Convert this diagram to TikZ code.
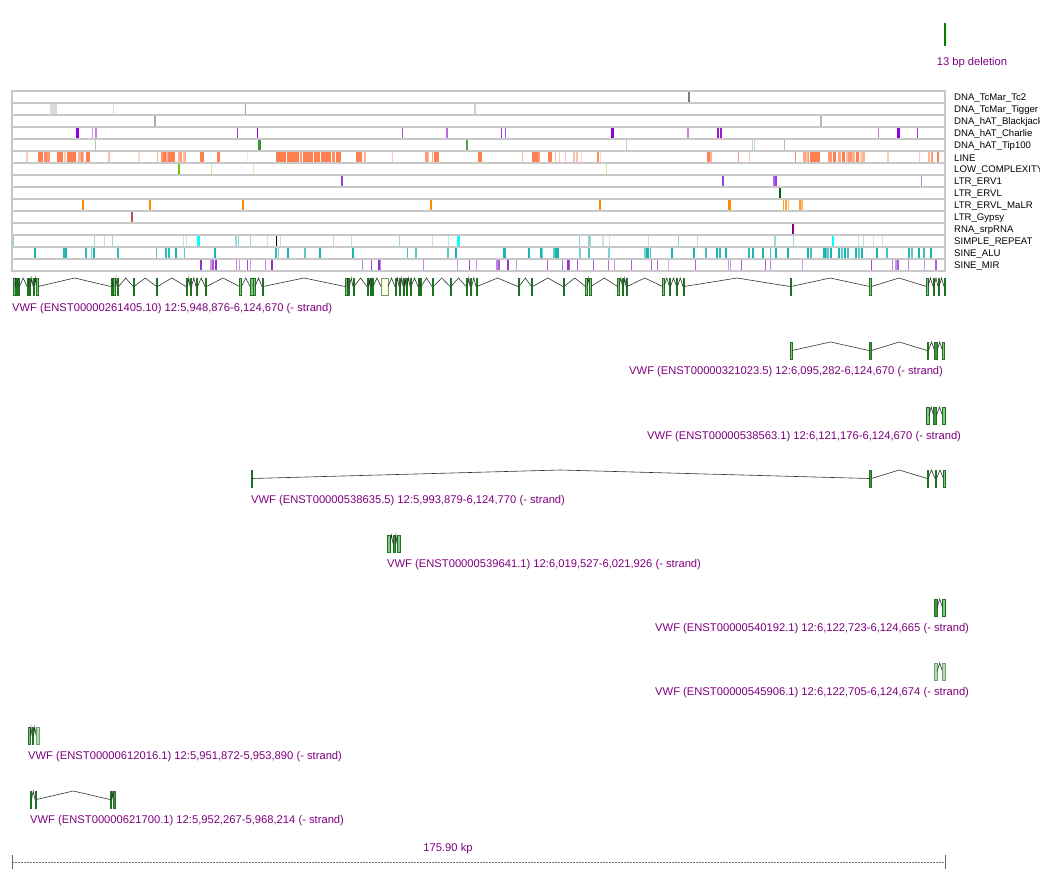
\documentclass[tikz,border=0pt]{standalone}
\usepackage{fontspec}
\setmainfont{Liberation Sans}
\definecolor{lbl}{HTML}{800080}
\definecolor{rowline}{HTML}{C8C8C8}
\definecolor{exfill}{HTML}{86C686}
\definecolor{exdraw}{HTML}{1E731E}
\definecolor{cTc}{HTML}{5F7272}
\definecolor{cTig}{HTML}{999999}
\definecolor{cBJ}{HTML}{86A286}
\definecolor{cCh}{HTML}{9400D3}
\definecolor{cTip}{HTML}{228B22}
\definecolor{cLINE}{HTML}{FF7F50}
\definecolor{cLow}{HTML}{66CC00}
\definecolor{cERV}{HTML}{8A2BE2}
\definecolor{cERVL}{HTML}{006400}
\definecolor{cMaLR}{HTML}{FF8C00}
\definecolor{cGyp}{HTML}{A52A2A}
\definecolor{cSRP}{HTML}{800080}
\definecolor{cSimp}{HTML}{40B0B0}
\definecolor{cAqua}{HTML}{00FFFF}
\definecolor{cAlu}{HTML}{18B4B0}
\definecolor{cMIR}{HTML}{9932CC}
\tikzset{
  tracklbl/.style={anchor=west,inner sep=0pt,font=\fontsize{9.6}{10}\selectfont,text=black},
  txlbl/.style={anchor=west,inner sep=0pt,font=\fontsize{11.2}{12}\selectfont,text=lbl},
  intron/.style={draw=black!80,line width=0.6pt},
  ex/.style={fill=exfill,draw=exdraw,line width=0.5pt},
  exd/.style={fill=exdraw!80,draw=exdraw,line width=0.5pt},
  exl/.style={fill=exfill!60,draw=exdraw!65,line width=0.5pt},
  exu/.style={fill=yellow!12,draw=exfill!80!black,line width=0.6pt},
  rowbox/.style={draw=rowline,line width=1.4pt}
}
\newcommand\feats[3]{%
  \foreach \x/\w/\o in {#3}{\fill[#2,fill opacity=\o] (\x,{91+12*#1+1}) rectangle ({\x+\w},{91+12*#1+11});}}
\newcommand\transcript[2]{%
  \gdef\tprev{}%
  \foreach \x/\w/\s in {#2}{%
    \ifx\tprev\empty\else
      \draw[intron] (\tprev,#1+8.5) -- ({(\tprev+\x)/2},#1) -- (\x,#1+8.5);
    \fi
    \draw[\s] (\x,#1) rectangle ++(\w,17);
    \pgfmathsetmacro\tend{\x+\w}\xdef\tprev{\tend}%
  }}
\begin{document}
\begin{tikzpicture}[x=1pt,y=-1pt]
\useasboundingbox (0,0) rectangle (1062,888);
\fill[white] (0,0) rectangle (1062,888);
% deletion
\draw[cERVL!80!green,line width=1.1pt] (945,23) -- (945,46);
\node[txlbl,anchor=center] (del) at (972,62.5) {13 bp deletion};
% rows background
\foreach \i in {0,...,14}{\fill[white] (12,{91+12*\i}) rectangle (945,{103+12*\i});}
% features
\feats{0}{cTc}{688/2/0.9}
\feats{1}{cTig}{50/7/0.35,113/1/0.3,245/1/0.9,474/2/0.45}
\feats{2}{cBJ}{154/1.5/0.8,820/1.5/0.7}
\feats{3}{cCh}{76/3/1,92/1/0.4,95/1.5/0.5,237/1/0.8,257/1/1,402/1/0.7,446/1.5/0.6,501/1/0.8,505/1/0.7,611/3/1,687/1.5/0.5,717/1.5/0.9,720/1.5/0.9,878/1/0.5,897/2.5/1,917/1/0.8}
\feats{4}{cTip}{95/1/0.4,258/3/0.9,466/1.5/0.8,626/1/0.3,752/1/0.3,754/1/0.3,784/1/0.45}
\feats{5}{cLINE}{26/1.5/0.4,38/5/1,44/3/0.9,47/3/0.8,57/6/1,64/1.5/0.4,67/9/1,78/3/0.6,81/2/0.9,83/1/0.5,86/4/1,108/1.5/0.5,138/1.5/0.3,157/1/0.6,161/2/0.8,163/3/1,166/2/0.6,168/7/1,178/2/0.6,180/2/0.8,183/2/0.5,185/1/0.7,200/3.5/1,217/2.5/1,247/1/0.2,276/10/1,287/12/1,300/2/0.8,303/10/1,314/6/1,321/10/1,332/3/0.9,336/5/1,340/1/0.4,356/6/1,364/1.5/0.6,392/1/0.4,425/3/0.8,428/1/0.6,432/1/0.7,434/5/1,478/4/1,522/1/0.5,532/6/1,538/1.5/0.8,548/4/1,555/1/0.5,559/1/0.4,565/1/0.4,573/2/0.5,576/1.5/0.5,581/1/0.3,597/2/0.9,600/1/0.3,707/3/1,710/2/0.6,738/1/0.8,749/1/0.4,795/1/0.9,803/3/0.7,806/2/0.5,808/1/0.8,810/10/1,828/4/0.8,833/3/1,838/3/0.7,842/3/1,846/2/0.5,848/4/0.8,852/3/0.6,856/3/1,860/2/0.4,862/3/0.6,887/1.5/0.4,919/1/0.4,928/2/0.6,931/2/0.8,937/1.5/1}
\feats{6}{cLow}{178/1.5/1,211/1/0.35,253/1/0.3,606/1/0.35}
\feats{7}{cERV}{341/2/0.9,722/2/0.9,773/1.5/0.7,775/1.5/0.9,921/1/0.6}
\feats{8}{cERVL}{779/2/1}
\feats{9}{cMaLR}{82/2/1,149/2/1,242/2/1,430/2/1,599/2/1,728/2.5/1,783/1/0.8,785/1.5/0.8,788/1/0.6,799/1.5/0.8,801/1.5/0.6}
\feats{10}{cGyp}{131/2/0.8}
\feats{11}{cSRP}{792/1.5/1}
\feats{12}{cSimp}{13/1/0.6,94/1/0.5,104/1/0.4,112/1/0.5,183/1/0.3,186/1/0.3,235/1.5/0.5,238/1/0.6,250/1/0.5,267/1/0.3,280/1/0.4,333/1/0.4,351/1/0.4,399/1/0.5,432/1/0.3,448/1/0.3,579/1/0.6,588/1.5/0.6,590/1/0.5,602/1/0.3,603/1/0.3,609/1/0.3,648/1/0.4,678/1/0.6,697/1/0.4,774/2/0.5,793/1/0.5,858/1/0.3,863/1/0.4,873/1/0.3,882/1/0.3}
\feats{12}{cAqua}{197/3/1,457/2.5/1,832/1.5/1}
\feats{12}{black}{276/1/1}
\feats{13}{cAlu}{34/2/1,63/1.5/0.9,65/2/1,85/2/0.9,91/1/0.6,93/1.5/1,117/2/0.9,156/1/0.7,165/1.5/0.9,168/1.5/0.9,175/2/1,184/1/0.7,214/2/1,275/1.5/0.9,278/1/0.6,287/2/1,304/2/0.7,319/2/1,352/2/1,407/1/0.8,415/2/0.7,447/2/0.7,455/2/1,503/3/1,528/2/1,540/2/1,542/1/0.6,553/2/0.7,555/4/1,579/2/0.6,588/2/0.8,608/2/0.6,644/2/0.6,646/3/1,650/1/0.8,671/2/1,693/1.5/1,705/1.5/0.8,716/1.5/1,719/1.5/0.9,725/2/1,748/2/0.9,752/2/1,762/1.5/1,770/1/0.8,775/1.5/1,787/1.5/1,807/1.5/1,810/1.5/0.8,823/3/1,826/3/0.7,830/2/1,838/2/1,841/2/0.7,844/2/1,847/2/0.8,855/2/1,858/2/0.7,861/2/1,876/2/1,886/1.5/0.8,908/1.5/0.9,911/1.5/0.7,918/1.5/1,923/1.5/0.8,930/1.5/1}
\feats{14}{cMIR}{200/1.5/1,210/1.5/0.5,212/1.5/0.8,215/1.5/1,236/1/0.6,239/1/0.5,247/1/0.9,250/1/0.5,265/1/0.6,271/1.5/1,362/1/0.6,371/1/0.9,378/1.5/1,380/1/0.6,423/1/0.6,457/1/0.5,469/1/0.9,476/1/0.5,496/2/0.6,498/1.5/0.8,507/1.5/1,516/1/0.5,547/1/0.8,562/1/0.7,567/1.5/1,569/1/0.8,577/1/0.8,593/1/0.8,608/1/0.7,614/1/0.5,631/1/0.8,651/1/0.8,657/1/0.7,668/1/0.4,695/1/0.8,728/1/0.5,730/1/0.5,741/1/0.8,765/1/0.8,770/1/0.6,802/1/0.5,871/1/0.9,892/1/0.6,895/1.5/0.5,897/1.5/0.8,908/1/0.6,924/1/0.5,935/1.5/0.8}
% row borders
\foreach \i in {0,...,14}{\draw[rowbox] (12,{91+12*\i}) rectangle (945,{103+12*\i});}
% track labels
\begin{scope}
\clip (948,85) rectangle (1039,275);
\foreach \t [count=\i from 0] in {DNA\_TcMar\_Tc2,DNA\_TcMar\_Tigger,DNA\_hAT\_Blackjack,DNA\_hAT\_Charlie,DNA\_hAT\_Tip100,LINE,LOW\_COMPLEXITY,LTR\_ERV1,LTR\_ERVL,LTR\_ERVL\_MaLR,LTR\_Gypsy,RNA\_srpRNA,SIMPLE\_REPEAT,SINE\_ALU,SINE\_MIR}{
  \node[tracklbl] (r\i) at (954,{98+12*\i}) {\t};}
\end{scope}
% transcripts
\transcript{278}{13/2/ex,16/1.5/ex,18.5/1/ex,27/1.5/ex,29.5/1/ex,33/1.5/ex,36.5/1.5/ex,111/1.5/ex,113.5/1.5/ex,117/1.5/ex,133/1/ex,156.5/1/ex,186/1.5/ex,190/1.5/ex,196/1.5/ex,205/1.5/ex,239.5/2/ex,250/3/ex,253.5/1.5/ex,262/1/ex,345/2/ex,348/1.5/ex,353/1/ex,367/1.5/ex,370/1.5/exd,372/1/ex,381/7/exu,395/1/ex,399/1.5/ex,403/1.5/ex,406/1/ex,410/1/ex,418/1.5/exd,420/1/ex,432/1.5/ex,450/1/ex,466/1.5/ex,470/1.5/ex,476/1/ex,518/1/ex,531.5/1/ex,563/1/ex,585.5/1.5/ex,589.5/1.5/ex,617.5/1.5/ex,622.5/1/ex,626/1/ex,662.5/1.5/ex,669.5/1/ex,676.5/1/ex,683/1/ex,790/1/ex,869.5/2/ex,926.5/1.5/ex,933/1/ex,938/1/ex,944/1.5/ex}
\node[txlbl] (t1) at (12,308.5) {VWF (ENST00000261405.10) 12:5,948,876-6,124,670 (- strand)};
\transcript{342}{790/2/ex,869/2.5/exd,927/1.5/ex,934.5/2.5/exd,942.5/2/ex}
\node[txlbl] (t2) at (629,371.5) {VWF (ENST00000321023.5) 12:6,095,282-6,124,670 (- strand)};
\transcript{407}{926.5/2.5/ex,933.5/3/exd,942.5/2.5/ex}
\node[txlbl] (t3) at (647,436.5) {VWF (ENST00000538563.1) 12:6,121,176-6,124,670 (- strand)};
\transcript{470}{251/1/ex,869/2.5/exd,927/1/ex,935/1.5/ex,943.5/1.5/ex}
\node[txlbl] (t4) at (251,500.5) {VWF (ENST00000538635.5) 12:5,993,879-6,124,770 (- strand)};
\transcript{535}{387/3/ex,393/2/exd,397/3.5/ex}
\node[txlbl] (t5) at (387,564.5) {VWF (ENST00000539641.1) 12:6,019,527-6,021,926 (- strand)};
\transcript{599}{934/3/exd,942.5/2.5/ex}
\node[txlbl] (t6) at (655,628.5) {VWF (ENST00000540192.1) 12:6,122,723-6,124,665 (- strand)};
\transcript{663}{934/3/exl,942.5/2.5/exl}
\node[txlbl] (t7) at (655,692.5) {VWF (ENST00000545906.1) 12:6,122,705-6,124,674 (- strand)};
\transcript{727}{28/2/ex,32/1.5/exd,36/3/exl}
\node[txlbl] (t8) at (28,756.5) {VWF (ENST00000612016.1) 12:5,951,872-5,953,890 (- strand)};
\transcript{791}{30/1.5/ex,35/1.5/ex,110/1.5/ex,113/2/exd}
\node[txlbl] (t9) at (30,820.5) {VWF (ENST00000621700.1) 12:5,952,267-5,968,214 (- strand)};
% scale bar
\node[txlbl,anchor=center] (scl) at (448,848.5) {175.90 kp};
\coordinate (sL) at (12,862);
\coordinate (sR) at (945,862);
\draw[black!55,line width=0.6pt,dash pattern=on 2pt off 1pt] (sL) -- (sR);
\draw[black!60,line width=0.6pt] (12,855) -- (12,869) (945,855) -- (945,869);
\end{tikzpicture}
\end{document}
